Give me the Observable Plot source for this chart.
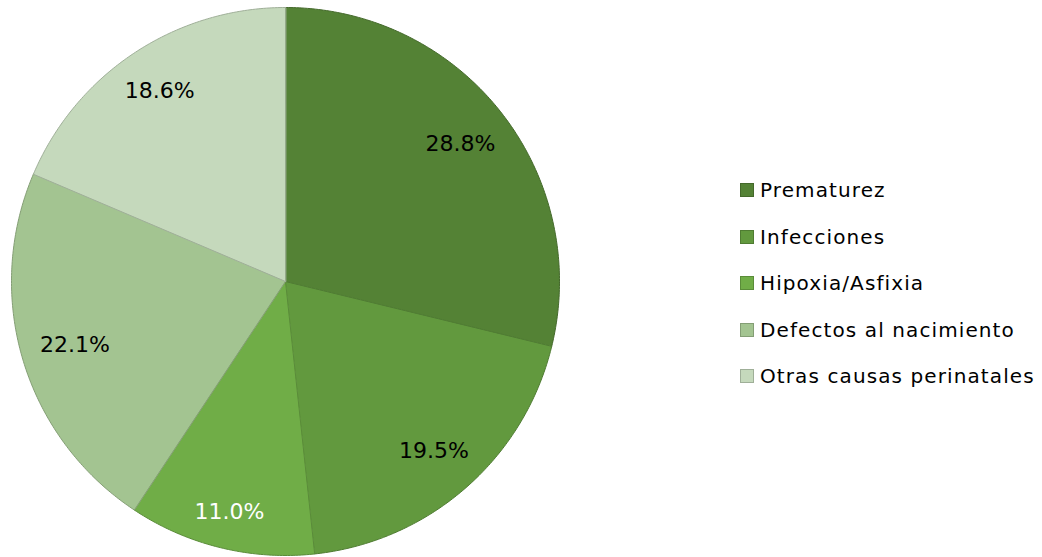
<!DOCTYPE html>
<html>
<head>
<meta charset="utf-8">
<script src="https://cdn.jsdelivr.net/npm/d3@7"></script>
<script src="https://cdn.jsdelivr.net/npm/@observablehq/plot@0.6"></script>
<style>
  html, body { margin: 0; padding: 0; background: #fff; }
  #wrap { position: relative; width: 1042px; height: 557px; font-family: "DejaVu Sans", sans-serif; }
  #legend { position: absolute; left: 740px; top: 167px; }
  .item { display: flex; align-items: center; height: 46.5px; font-size: 20px; letter-spacing: 1.1px; color: #000; }
  .sw { width: 14px; height: 14px; margin-right: 6px; box-sizing: border-box; border: 1px solid; }
</style>
</head>
<body>
<div id="wrap"></div>
<script>
const categories = ["Prematurez", "Infecciones", "Hipoxia/Asfixia", "Defectos al nacimiento", "Otras causas perinatales"];
const values = [28.8, 19.5, 11.0, 22.1, 18.6];
const labels = ["28.8%", "19.5%", "11.0%", "22.1%", "18.6%"];
const colors = ["#548235", "#62993e", "#70ad47", "#a3c491", "#c5d9bc"];
const labelColors = ["#000", "#000", "#fff", "#000", "#000"];

const R = 274, cx = 285, cy = 281, W = 1042, H = 557;
// label box half-size (px) and outer-corner radius used for best-fit placement
const hw = 35, hh = 9, rOut = 256;

const total = d3.sum(values);
let acc = 0;
const slices = values.map((v, i) => {
  const a0 = acc / total * 2 * Math.PI;
  acc += v;
  const a1 = acc / total * 2 * Math.PI;
  const n = Math.max(4, Math.ceil((a1 - a0) / 0.01));
  const pts = [{x: 0, y: 0}];
  for (let k = 0; k <= n; k++) {
    const a = a0 + (a1 - a0) * k / n;
    pts.push({x: Math.sin(a), y: Math.cos(a)});
  }
  const am = (a0 + a1) / 2;
  const ux = Math.sin(am), uy = Math.cos(am);
  const ox = Math.sign(ux) * hw, oy = Math.sign(uy) * hh;
  const uo = ux * ox + uy * oy;
  const p = -uo + Math.sqrt(uo * uo - (ox * ox + oy * oy) + rOut * rOut);
  return {i, pts, lx: p * ux / R, ly: p * uy / R};
});

const marks = [];
slices.forEach(s => {
  marks.push(Plot.line(s.pts, {
    x: "x", y: "y", curve: "linear-closed",
    fill: colors[s.i],
    stroke: d3.color(colors[s.i]).darker(0.6).formatHex(),
    strokeWidth: 1
  }));
});
marks.push(Plot.text(slices, {
  x: "lx", y: "ly",
  text: d => labels[d.i],
  fill: d => labelColors[d.i],
  fontSize: 22,
  fontFamily: "DejaVu Sans"
}));

const chart = Plot.plot({
  width: W, height: H,
  margin: 0,
  x: {domain: [-cx / R, (W - cx) / R], axis: null},
  y: {domain: [-(H - cy) / R, cy / R], axis: null},
  marks
});
chart.style.fontFamily = "DejaVu Sans";
const wrap = document.getElementById("wrap");
wrap.appendChild(chart);

const legend = document.createElement("div");
legend.id = "legend";
categories.forEach((c, i) => {
  const it = document.createElement("div");
  it.className = "item";
  const sw = document.createElement("span");
  sw.className = "sw";
  sw.style.background = colors[i];
  sw.style.borderColor = d3.color(colors[i]).darker(0.6).formatHex();
  const t = document.createElement("span");
  t.textContent = c;
  it.appendChild(sw); it.appendChild(t);
  legend.appendChild(it);
});
wrap.appendChild(legend);
</script>
</body>
</html>
